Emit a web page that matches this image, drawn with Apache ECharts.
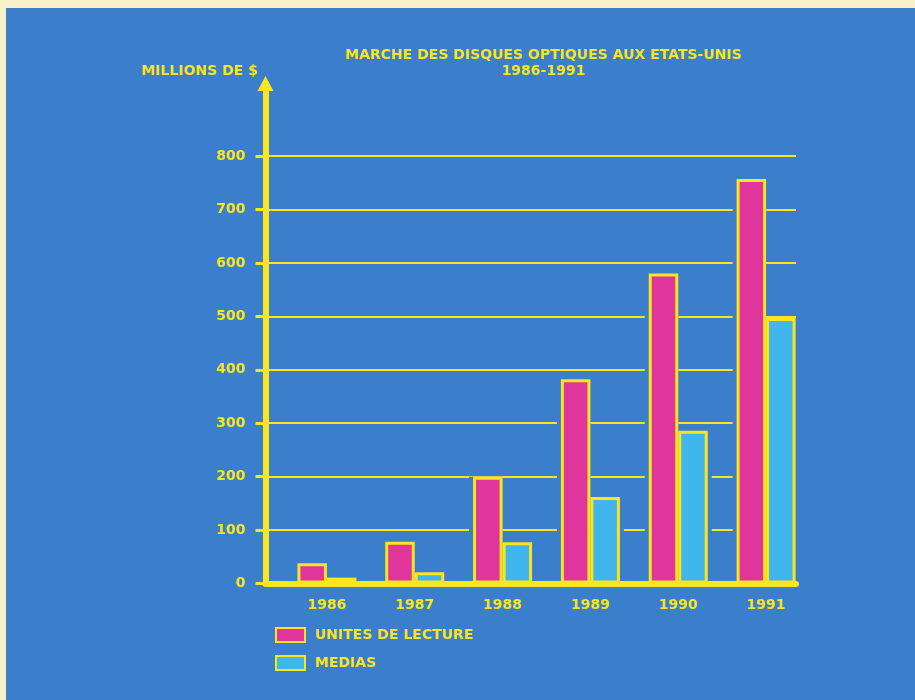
<!DOCTYPE html>
<html>
<head>
<meta charset="utf-8">
<script src="https://cdn.jsdelivr.net/npm/echarts@6/dist/echarts.min.js"></script>
<style>
  html, body { margin: 0; padding: 0; background: #f7f0c8; }
  #chart { position: absolute; left: 6px; top: 8px; width: 909px; height: 692px; }
</style>
</head>
<body>
<div id="chart"></div>
<script>
const years = ['1986', '1987', '1988', '1989', '1990', '1991'];
const unitesLecture = [38, 78, 200, 382, 580, 757];
const medias = [11, 21, 77, 162, 286, 497];
const seriesNames = ['UNITES DE LECTURE', 'MEDIAS'];
const titleLines = ['MARCHE DES DISQUES OPTIQUES AUX ETATS-UNIS', '1986-1991'];
const yAxisName = 'MILLIONS DE $';

const BG = '#3a7ecc';
const YELLOW = '#fbe51e';
const PINK = '#e0359a';
const CYAN = '#40b6ec';
const FONT = 'DejaVu Sans';

const chart = echarts.init(document.getElementById('chart'), null, { renderer: 'canvas' });

const barCommon = {
  type: 'bar',
  barWidth: 29.5,
  barGap: '0%',
  xAxisIndex: 2,
  yAxisIndex: 2,
  z: 4
};
const haloCommon = {
  type: 'bar',
  barWidth: 33.5,
  barGap: '0%',
  xAxisIndex: 3,
  yAxisIndex: 2,
  silent: true,
  z: 2,
  itemStyle: { color: BG }
};

const option = {
  backgroundColor: BG,
  animation: false,
  textStyle: { fontFamily: FONT },
  graphic: [
    {
      type: 'text', x: 537.5, y: 47,
      style: { text: titleLines[0], fill: YELLOW, font: 'bold 14px "DejaVu Sans"', align: 'center', verticalAlign: 'middle' }
    },
    {
      type: 'text', x: 537.5, y: 63.5,
      style: { text: titleLines[1], fill: YELLOW, font: 'bold 14px "DejaVu Sans"', align: 'center', verticalAlign: 'middle' }
    },
    {
      type: 'text', x: 252, y: 63.5,
      style: { text: yAxisName, fill: YELLOW, font: 'bold 14px "DejaVu Sans"', align: 'right', verticalAlign: 'middle' }
    }
  ],
  legend: {
    data: seriesNames,
    orient: 'vertical',
    left: 264,
    top: 614,
    itemWidth: 29,
    itemHeight: 14,
    itemGap: 12,
    icon: 'rect',
    textStyle: { color: YELLOW, fontFamily: FONT, fontWeight: 'bold', fontSize: 14, lineHeight: 14, padding: [0, 0, 0, 5] }
  },
  grid: [
    { left: 259.5, right: 119, top: 148, bottom: 116.5 },
    { left: 259.5, right: 119, top: 75.5, bottom: 116.5 },
    { left: 277, right: 105, top: 148, bottom: 116.5 }
  ],
  xAxis: [
    {
      gridIndex: 0, type: 'value', min: 0, max: 1, z: 6,
      axisLine: { show: true, lineStyle: { color: YELLOW, width: 6 } },
      axisTick: { show: false }, axisLabel: { show: false }, splitLine: { show: false }
    },
    { gridIndex: 1, type: 'value', min: 0, max: 1, show: false },
    {
      gridIndex: 2, type: 'category', data: years,
      axisLine: { show: false }, axisTick: { show: false }, splitLine: { show: false },
      axisLabel: { color: YELLOW, fontFamily: FONT, fontWeight: 'bold', fontSize: 14, margin: 15 }
    },
    { gridIndex: 2, type: 'category', data: years, show: false }
  ],
  yAxis: [
    {
      gridIndex: 0, type: 'value', min: 0, max: 800, interval: 100, z: 0,
      axisLine: { show: false },
      axisTick: { show: true, length: 10, lineStyle: { color: YELLOW, width: 3 } },
      axisLabel: { color: YELLOW, fontFamily: FONT, fontWeight: 'bold', fontSize: 14, margin: 20 },
      splitLine: { show: true, lineStyle: { color: YELLOW, width: 2 } }
    },
    {
      gridIndex: 1, type: 'value', min: 0, max: 1, z: 6,
      axisLine: { show: true, symbol: ['none', 'triangle'], symbolSize: [16, 15], lineStyle: { color: YELLOW, width: 6 } },
      axisTick: { show: false }, axisLabel: { show: false }, splitLine: { show: false }
    },
    { gridIndex: 2, type: 'value', min: 0, max: 800, show: false }
  ],
  series: [
    Object.assign({ name: 'halo1', data: unitesLecture }, haloCommon),
    Object.assign({ name: 'halo2', data: medias }, haloCommon),
    Object.assign({
      name: seriesNames[0], data: unitesLecture,
      itemStyle: { color: PINK, borderColor: YELLOW, borderWidth: 3 }
    }, barCommon),
    Object.assign({
      name: seriesNames[1], data: medias,
      itemStyle: { color: CYAN, borderColor: YELLOW, borderWidth: 3 }
    }, barCommon)
  ]
};

chart.setOption(option);
</script>
</body>
</html>
